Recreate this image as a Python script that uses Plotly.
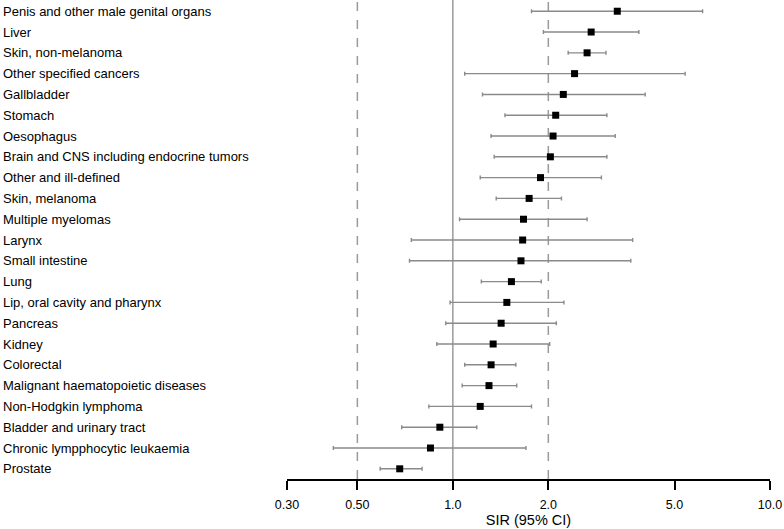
import plotly.graph_objects as go

# cancer sites, top to bottom
sites = [
    "Penis and other male genital organs",
    "Liver",
    "Skin, non-melanoma",
    "Other specified cancers",
    "Gallbladder",
    "Stomach",
    "Oesophagus",
    "Brain and CNS including endocrine tumors",
    "Other and ill-defined",
    "Skin, melanoma",
    "Multiple myelomas",
    "Larynx",
    "Small intestine",
    "Lung",
    "Lip, oral cavity and pharynx",
    "Pancreas",
    "Kidney",
    "Colorectal",
    "Malignant haematopoietic diseases",
    "Non-Hodgkin lymphoma",
    "Bladder and urinary tract",
    "Chronic lympphocytic leukaemia",
    "Prostate",
]
sir = [3.30, 2.73, 2.65, 2.42, 2.23, 2.11, 2.07, 2.03, 1.89, 1.74, 1.67, 1.66,
       1.64, 1.53, 1.48, 1.42, 1.34, 1.32, 1.30, 1.22, 0.91, 0.85, 0.68]
ci_low = [1.77, 1.93, 2.31, 1.09, 1.24, 1.46, 1.32, 1.35, 1.22, 1.37, 1.05, 0.74,
          0.73, 1.23, 0.98, 0.95, 0.89, 1.09, 1.07, 0.84, 0.69, 0.42, 0.59]
ci_high = [6.13, 3.86, 3.04, 5.40, 4.04, 3.06, 3.25, 3.06, 2.94, 2.20, 2.65, 3.69,
           3.64, 1.90, 2.24, 2.12, 2.02, 1.58, 1.59, 1.77, 1.19, 1.70, 0.80]

tick_vals = [0.3, 0.5, 1, 2, 5, 10]
tick_text = ["0.30", "0.50", "1.0", "2.0", "5.0", "10.0"]
ref_lines = [(0.5, "dash"), (1.0, "solid"), (2.0, "dash")]

fig = go.Figure()
fig.add_trace(
    go.Scatter(
        x=sir,
        y=sites,
        mode="markers",
        marker=dict(symbol="square", size=7, color="black"),
        error_x=dict(
            type="data",
            symmetric=False,
            array=[h - s for h, s in zip(ci_high, sir)],
            arrayminus=[s - l for s, l in zip(sir, ci_low)],
            color="#8a8a8a",
            thickness=1.4,
            width=2,
        ),
        showlegend=False,
    )
)

for v, dash in ref_lines:
    fig.add_shape(
        type="line",
        xref="x",
        yref="paper",
        x0=v,
        x1=v,
        y0=0,
        y1=1,
        line=dict(color="#9a9a9a", width=1.5, dash=dash),
        layer="below",
    )

# left aligned row labels
for s in sites:
    fig.add_annotation(
        x=-0.593,
        xref="paper",
        y=s,
        yref="y",
        text=s,
        showarrow=False,
        xanchor="left",
        yanchor="middle",
        font=dict(size=13, color="black"),
    )

fig.update_layout(
    width=784,
    height=529,
    autosize=False,
    margin=dict(l=287, r=14, t=0, b=50),
    plot_bgcolor="white",
    paper_bgcolor="white",
    font=dict(family="Liberation Sans, Arial, sans-serif", size=12, color="black"),
    xaxis=dict(
        type="log",
        range=[-0.5229, 1],
        tickvals=tick_vals,
        ticktext=tick_text,
        showgrid=False,
        zeroline=False,
        showline=True,
        linecolor="black",
        linewidth=1.5,
        ticks="outside",
        ticklen=9,
        tickwidth=1.5,
        tickcolor="black",
        tickfont=dict(size=12.5),
        ticklabelstandoff=4,
        title=dict(text="SIR (95% CI)", font=dict(size=14.5), standoff=0),
    ),
    yaxis=dict(
        type="category",
        categoryorder="array",
        categoryarray=sites,
        range=[22.49, -0.54],
        showticklabels=False,
        showgrid=False,
        zeroline=False,
        showline=False,
        ticks="",
    ),
)

fig.write_html(
    "out.html",
    config={"displayModeBar": False},
    post_script="document.body.style.margin='0';",
)
